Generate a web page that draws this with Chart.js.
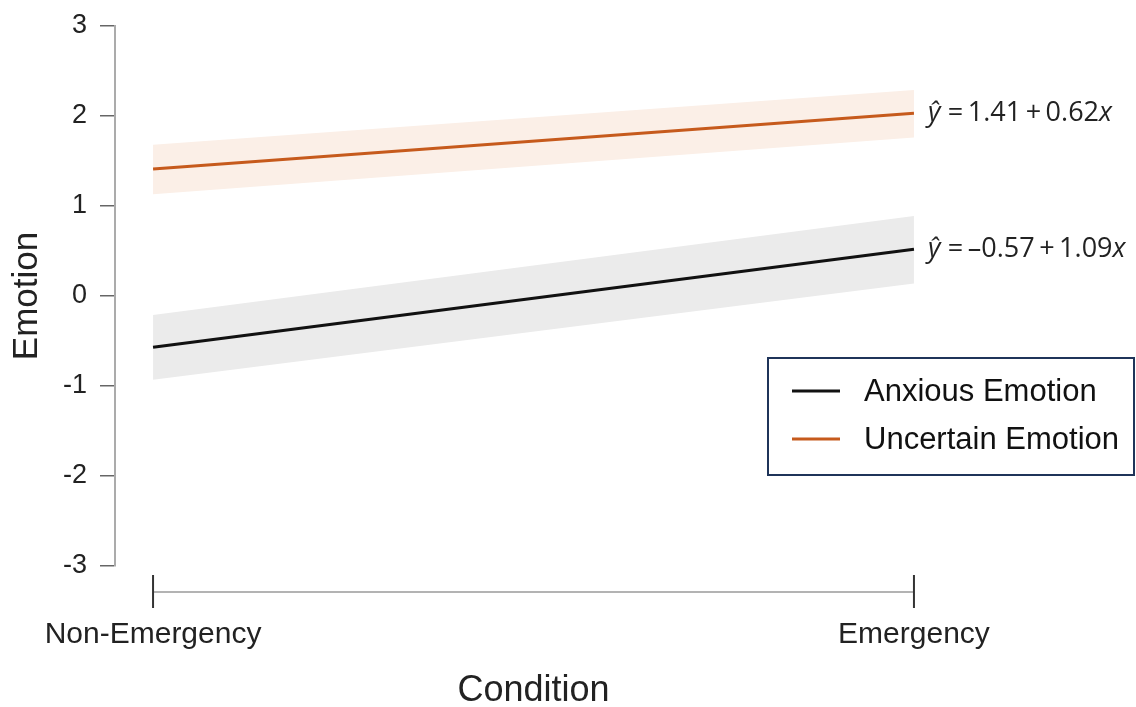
<!DOCTYPE html>
<html>
<head>
<meta charset="utf-8">
<script src="https://cdn.jsdelivr.net/npm/chart.js@4/dist/chart.umd.min.js"></script>
<style>
  html, body { margin: 0; padding: 0; background: #fff; }
</style>
</head>
<body>
<canvas id="myChart" width="1136" height="707"></canvas>
<script>
// data
const conditions = ['Non-Emergency', 'Emergency'];
const conditionX = [0, 1];
const yTicks = [-3, -2, -1, 0, 1, 2, 3];

const anxiousFit = [-0.57, 0.52];
const anxiousUpper = [-0.21, 0.89];
const anxiousLower = [-0.93, 0.14];

const uncertainFit = [1.41, 2.03];
const uncertainUpper = [1.68, 2.29];
const uncertainLower = [1.13, 1.76];

const seriesNames = ['Anxious Emotion', 'Uncertain Emotion'];
const eqIntercepts = ['\u20130.57', '1.41'];
const eqSlopes = ['1.09', '0.62'];

const BLACK = '#111111';
const ORANGE = '#C65A1C';

function pts(vals) {
  return conditionX.map((x, i) => ({ x: x, y: vals[i] }));
}

const extras = {
  id: 'extras',
  afterDraw(chart) {
    const ctx = chart.ctx;
    const xs = chart.scales.x;
    const ys = chart.scales.y;
    const x0 = xs.getPixelForValue(conditionX[0]);
    const x1 = xs.getPixelForValue(conditionX[1]);
    const axisY = 592;

    ctx.save();
    // detached x axis
    ctx.strokeStyle = '#9a9a9a';
    ctx.lineWidth = 1.5;
    ctx.beginPath();
    ctx.moveTo(x0, axisY);
    ctx.lineTo(x1, axisY);
    ctx.stroke();
    ctx.strokeStyle = '#333';
    ctx.lineWidth = 2;
    [x0, x1].forEach(px => {
      ctx.beginPath();
      ctx.moveTo(px, axisY - 17);
      ctx.lineTo(px, axisY + 16);
      ctx.stroke();
    });

    // regression equations
    const fits = [anxiousFit, uncertainFit];
    fits.forEach((f, i) => {
      const py = ys.getPixelForValue(f[f.length - 1]);
      let px = x1 + 14;
      ctx.textBaseline = 'middle';
      ctx.fillStyle = '#222';
      ctx.font = 'italic 27px "Open Sans"';
      ctx.fillText('\u0177', px, py);
      px += ctx.measureText('\u0177').width + 3;
      ctx.font = '27px "Open Sans"';
      const mid = '\u2009=\u2009' + eqIntercepts[i] + '\u2009+\u2009' + eqSlopes[i];
      ctx.fillText(mid, px, py);
      px += ctx.measureText(mid).width;
      ctx.font = 'italic 27px "Open Sans"';
      ctx.fillText('x', px, py);
    });

    // legend box
    const bx = 768, by = 358, bw = 366, bh = 117;
    ctx.strokeStyle = '#1F3459';
    ctx.lineWidth = 2;
    ctx.strokeRect(bx, by, bw, bh);
    const colors = [BLACK, ORANGE];
    seriesNames.forEach((name, i) => {
      const ly = 391 + i * 48;
      ctx.strokeStyle = colors[i];
      ctx.lineWidth = 3;
      ctx.beginPath();
      ctx.moveTo(792, ly);
      ctx.lineTo(840, ly);
      ctx.stroke();
      ctx.fillStyle = '#111';
      ctx.font = '31px "Liberation Sans"';
      ctx.textBaseline = 'middle';
      ctx.fillText(name, 864, ly + 1);
    });
    ctx.restore();
  }
};

const data = {
  datasets: [
    {
      label: seriesNames[0],
      data: pts(anxiousFit),
      borderColor: BLACK,
      borderWidth: 3,
      pointRadius: 0,
      fill: false
    },
    {
      label: seriesNames[1],
      data: pts(uncertainFit),
      borderColor: ORANGE,
      borderWidth: 3,
      pointRadius: 0,
      fill: false
    },
    {
      label: 'anxious upper',
      data: pts(anxiousUpper),
      borderWidth: 0,
      borderColor: 'rgba(0,0,0,0)',
      backgroundColor: '#EBEBEB',
      pointRadius: 0,
      fill: 3
    },
    {
      label: 'anxious lower',
      data: pts(anxiousLower),
      borderWidth: 0,
      borderColor: 'rgba(0,0,0,0)',
      pointRadius: 0,
      fill: false
    },
    {
      label: 'uncertain upper',
      data: pts(uncertainUpper),
      borderWidth: 0,
      borderColor: 'rgba(0,0,0,0)',
      backgroundColor: '#FBEFE7',
      pointRadius: 0,
      fill: 5
    },
    {
      label: 'uncertain lower',
      data: pts(uncertainLower),
      borderWidth: 0,
      borderColor: 'rgba(0,0,0,0)',
      pointRadius: 0,
      fill: false
    }
  ]
};

const config = {
  type: 'line',
  data: data,
  options: {
    responsive: false,
    animation: false,
    devicePixelRatio: 1,
    layout: { padding: { top: 26, right: 184, left: 0, bottom: 0 } },
    plugins: {
      legend: { display: false },
      tooltip: { enabled: false },
      filler: { drawTime: 'beforeDatasetsDraw' }
    },
    scales: {
      x: {
        type: 'linear',
        min: -0.05,
        max: 1.05,
        afterFit(scale) {
          scale.height = 141;
          scale.paddingLeft = 0;
          scale.paddingRight = 0;
        },
        afterBuildTicks(scale) { scale.ticks = conditionX.map(v => ({ value: v })); },
        border: { display: false },
        grid: { display: false, drawTicks: false },
        ticks: {
          padding: 51,
          color: '#222',
          font: { family: 'Liberation Sans', size: 30 },
          callback: (v) => conditions[conditionX.indexOf(v)]
        },
        title: {
          display: true,
          text: 'Condition',
          color: '#222',
          font: { family: 'Liberation Sans', size: 36 },
          padding: { top: 0, bottom: -6 }
        }
      },
      y: {
        min: -3,
        max: 3,
        afterFit(scale) {
          scale.width = 115;
          scale.paddingTop = 0;
          scale.paddingBottom = 0;
        },
        afterBuildTicks(scale) { scale.ticks = yTicks.map(v => ({ value: v })); },
        border: { display: true, color: '#ababab', width: 2 },
        grid: { drawOnChartArea: false, drawTicks: true, tickLength: 15, color: '#666', lineWidth: 1.5 },
        ticks: {
          padding: 13,
          color: '#222',
          font: { family: 'Liberation Sans', size: 27 }
        },
        title: {
          display: true,
          text: 'Emotion',
          color: '#222',
          font: { family: 'Liberation Sans', size: 35 },
          padding: { top: 6, bottom: 0 }
        }
      }
    }
  },
  plugins: [extras]
};

const myChart = new Chart(document.getElementById('myChart'), config);
</script>
</body>
</html>
